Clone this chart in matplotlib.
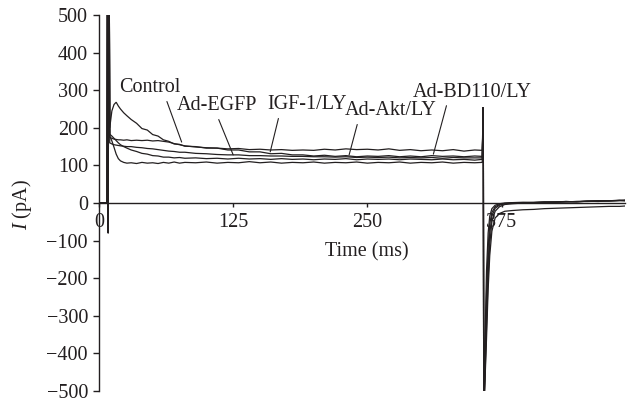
import numpy as np
import matplotlib.pyplot as plt

plt.rcParams["font.family"] = ["Liberation Serif", "DejaVu Serif"]
plt.rcParams["mathtext.fontset"] = "custom"
plt.rcParams["mathtext.it"] = "Liberation Serif:italic"
plt.rcParams["mathtext.rm"] = "Liberation Serif"

INK = "#231f20"

# ---- data (time in ms, current in pA) ----
t_pre = [0, 2, 4, 6, 7.5]
t_spike = [8, 8.6, 9.2]
spike = [900, -80, 900]

t_step = [10, 12, 14, 16, 18, 20, 23, 26, 30, 35, 40, 45, 50, 55, 60, 65, 70,
          75, 80, 90, 100, 110, 120, 130, 140, 150, 160, 170, 180, 190, 200,
          210, 220, 230, 240, 250, 260, 270, 280, 290, 300, 310, 320, 330,
          340, 350, 357]

t_tail = [358, 358.4, 359.5, 361, 362.5, 364, 366, 369, 373, 378, 385, 395,
          405, 415, 425, 435, 445, 455, 465, 475, 485, 490]

traces = {
    "control": {
        "pre": [0, 1, -1, 0, 1],
        "step": [200, 245, 262, 268, 258, 250, 240, 232, 222, 212, 198, 194,
                 182, 178, 168, 164, 157, 156, 151, 150, 146, 146, 141, 141,
                 136, 136, 131, 132, 128, 128, 125, 127, 124, 126, 123, 125,
                 124, 126, 123, 125, 123, 126, 124, 125, 123, 125, 124],
        "tail": [255, -560, -380, -180, -80, -35, -15, -6, -2, 0, 1, 2, 1, 3,
                 2, 4, 3, 5, 4, 6, 7, 6],
    },
    "fast": {
        "pre": [0, -1, 1, 0, -1],
        "step": [178, 165, 148, 130, 118, 112, 108, 106, 107, 105, 108, 106,
                 107, 105, 108, 106, 109, 106, 108, 107, 109, 106, 108, 107,
                 110, 107, 109, 106, 108, 107, 109, 106, 108, 107, 109, 106,
                 108, 107, 109, 106, 108, 107, 109, 106, 108, 107, 108],
        "tail": [255, -560, -480, -360, -230, -140, -75, -40, -28, -22, -20,
                 -18, -17, -15, -14, -13, -12, -11, -10, -9, -9, -8],
    },
    "mid": {
        "pre": [1, 0, 0, -1, 0],
        "step": [183, 178, 172, 166, 160, 155, 150, 146, 141, 137, 132, 130,
                 126, 125, 122, 122, 120, 121, 119, 120, 118, 119, 117, 119,
                 117, 118, 116, 118, 116, 117, 115, 117, 116, 118, 115, 117,
                 116, 117, 115, 117, 116, 115, 117, 115, 116, 114, 116],
        "tail": [255, -560, -420, -240, -120, -55, -25, -10, -4, -1, 0, 1, 2,
                 2, 3, 3, 4, 5, 6, 5, 7, 8],
    },
    "upper": {
        "pre": [0, 1, 0, 1, 0],
        "step": [175, 172, 170, 169, 168, 168, 167, 168, 166, 167, 166, 167,
                 165, 166, 164, 162, 158, 155, 152, 149, 147, 146, 144, 145,
                 142, 143, 141, 142, 140, 141, 140, 143, 141, 144, 142, 143,
                 141, 144, 140, 142, 139, 141, 139, 142, 138, 141, 140],
        "tail": [255, -560, -460, -300, -160, -80, -35, -14, -6, -2, 0, 1, 1,
                 2, 3, 4, 3, 5, 6, 6, 7, 6],
    },
    "lower": {
        "pre": [-1, 0, 1, 0, 0],
        "step": [160, 157, 155, 154, 153, 152, 151, 150, 150, 148, 147, 145,
                 144, 142, 140, 138, 137, 135, 135, 132, 131, 129, 128, 128,
                 126, 126, 125, 125, 124, 124, 123, 123, 122, 123, 121, 122,
                 121, 122, 120, 121, 120, 121, 119, 121, 120, 120, 120],
        "tail": [255, -560, -470, -330, -200, -110, -50, -22, -10, -4, -2, 0,
                 1, 2, 2, 3, 4, 4, 5, 6, 6, 7],
    },
}

labels = ["Control", "Ad-EGFP", "IGF-1/LY", "Ad-Akt/LY", "Ad-BD110/LY"]
label_pos = [(47.6, 306), (110, 258), (194, 261), (271.5, 245), (348, 295)]
label_target = [(77, 162), (125, 128), (159.5, 136), (233, 128), (311.5, 130)]
label_relx = [0.75, 0.5, 0.15, 0.15, 0.29]

y_ticks = [-500, -400, -300, -200, -100, 0, 100, 200, 300, 400, 500]
x_ticks = [0, 125, 250, 375]

fig = plt.figure(figsize=(6.29, 4.04), dpi=100)
ax = fig.add_axes([99 / 629, 13 / 404, 526 / 629, 376 / 404])

for key, tr in traces.items():
    t = t_pre + t_spike + t_step + t_tail
    y = tr["pre"] + spike + tr["step"] + tr["tail"]
    ax.plot(t, y, color=INK, lw=0.9, solid_joinstyle="miter")

for lab, pos, tgt, rx in zip(labels, label_pos, label_target, label_relx):
    ax.annotate(lab, xy=tgt, xytext=pos, ha="center", va="center",
                fontsize=14.5, color=INK,
                arrowprops=dict(arrowstyle="-", color=INK, lw=0.8,
                                relpos=(rx, 0.0), shrinkA=1, shrinkB=0))

ax.set_xlim(0, 490)
ax.set_ylim(-500, 500)
ax.spines["top"].set_visible(False)
ax.spines["right"].set_visible(False)
ax.spines["bottom"].set_position(("data", 0))
ax.spines["left"].set_color(INK)
ax.spines["bottom"].set_color(INK)
ax.spines["left"].set_linewidth(1.0)
ax.spines["bottom"].set_linewidth(1.0)

ax.set_yticks(y_ticks)
ax.set_yticklabels([str(v).replace("-", "\u2212") for v in y_ticks])
ax.set_xticks(x_ticks)
ax.set_xticklabels([str(v) for v in x_ticks])
ax.tick_params(axis="y", direction="out", length=4, width=1, pad=4,
               labelsize=14.5, colors=INK)
ax.tick_params(axis="x", direction="out", length=3, width=1, pad=4,
               labelsize=14.5, colors=INK)
ax.set_facecolor("none")

fig.text(367 / 629, 1 - 252 / 404, "Time (ms)", ha="center", va="center",
         fontsize=14.5, color=INK)
fig.text(22 / 629, 1 - 205 / 404, "$I$ (pA)", ha="center", va="center",
         rotation=90, fontsize=14.5, color=INK)

fig.savefig("out.png", dpi=100)
